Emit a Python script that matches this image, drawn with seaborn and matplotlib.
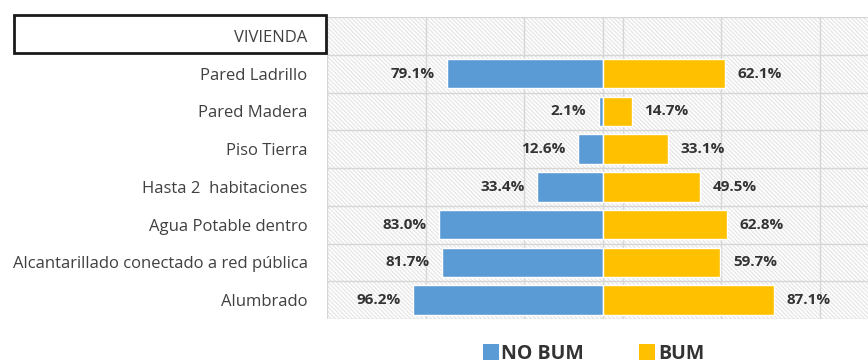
import matplotlib
matplotlib.use("Agg")
import matplotlib.pyplot as plt
from matplotlib.patches import Rectangle
from matplotlib.lines import Line2D
import numpy as np
import pandas as pd
import seaborn as sns

# Housing indicators, percentages for each group
header = "VIVIENDA"
categories = [
    "Pared Ladrillo",
    "Pared Madera",
    "Piso Tierra",
    "Hasta 2  habitaciones",
    "Agua Potable dentro",
    "Alcantarillado conectado a red pública",
    "Alumbrado",
]
no_bum = [79.1, 2.1, 12.6, 33.4, 83.0, 81.7, 96.2]
bum = [62.1, 14.7, 33.1, 49.5, 62.8, 59.7, 87.1]
groups = ["NO BUM", "BUM"]
colors = {"NO BUM": "#5B9BD5", "BUM": "#FFC000"}

df = pd.DataFrame({
    "categoria": categories * 2,
    "valor": [-v for v in no_bum] + bum,
    "grupo": [groups[0]] * len(categories) + [groups[1]] * len(categories),
})

sns.set_theme(style="white")
plt.rcParams["font.family"] = ["Open Sans", "DejaVu Sans"]
plt.rcParams["hatch.linewidth"] = 0.9

fig = plt.figure(figsize=(8.68, 3.64), dpi=100)
ax = fig.add_axes([327 / 868, 1 - 319 / 364, 541 / 868, 302 / 364])

order = [header] + categories
sns.barplot(
    data=df, y="categoria", x="valor", hue="grupo", order=order,
    hue_order=groups, palette=colors, dodge=False, width=0.78,
    orient="h", ax=ax, legend=False, saturation=1, zorder=3,
)

ax.set_xlim(-140.1, 134.6)
ax.set_ylim(len(order) - 0.5, -0.5)

# hatched background
bg = Rectangle((0, 0), 1, 1, transform=ax.transAxes, facecolor="white",
               edgecolor="#e6e6e6", hatch="\\" * 8, linewidth=0, zorder=0)
ax.add_patch(bg)

# grid: vertical lines and row separators
ax.set_xticks([-140, -90, -40, 10, 60, 110])
ax.xaxis.grid(True, color="#d6d6d6", linewidth=1.0, zorder=1)
ax.set_yticks(np.arange(len(order)) + 0.5, minor=True)
ax.set_yticks(np.arange(len(order)))
ax.yaxis.grid(True, which="minor", color="#d6d6d6", linewidth=1.0)
ax.axvline(0, color="#d6d6d6", linewidth=1.0, zorder=1)
ax.axhline(-0.5, color="#d6d6d6", linewidth=1.0)
ax.set_axisbelow(True)
ax.tick_params(axis="x", labelbottom=False, length=0)
ax.tick_params(axis="y", which="both", length=0, pad=14)
ax.set_yticklabels(order, fontsize=12, color="#404040")
ax.set_xlabel("")
ax.set_ylabel("")
for s in ax.spines.values():
    s.set_visible(False)

# value labels
for i, (a, b) in enumerate(zip(no_bum, bum), start=1):
    ax.annotate(f"{a:.1f}%", xy=(-a, i), xytext=(-9, 0), textcoords="offset points",
                ha="right", va="center", fontsize=11, fontweight="bold", color="#333333")
    ax.annotate(f"{b:.1f}%", xy=(b, i), xytext=(9, 0), textcoords="offset points",
                ha="left", va="center", fontsize=11, fontweight="bold", color="#333333")

# framed header box
fig.patches.append(Rectangle((14 / 868, 1 - 53 / 364), 312 / 868, 38 / 364,
                             transform=fig.transFigure, fill=False,
                             edgecolor="#1a1a1a", linewidth=2.0, zorder=5))

handles = [Line2D([0], [0], marker="s", linestyle="", markersize=11,
                  markerfacecolor=colors[g], markeredgewidth=0) for g in groups]
fig.legend(handles, groups, loc="center", bbox_to_anchor=(593 / 868, 1 - 354 / 364),
           ncol=2, frameon=False, prop={"size": 14, "weight": "bold"},
           handletextpad=0.1, columnspacing=2.8, handlelength=0.9,
           labelcolor="#333333")

fig.savefig("out.png", dpi=100, facecolor="white")
